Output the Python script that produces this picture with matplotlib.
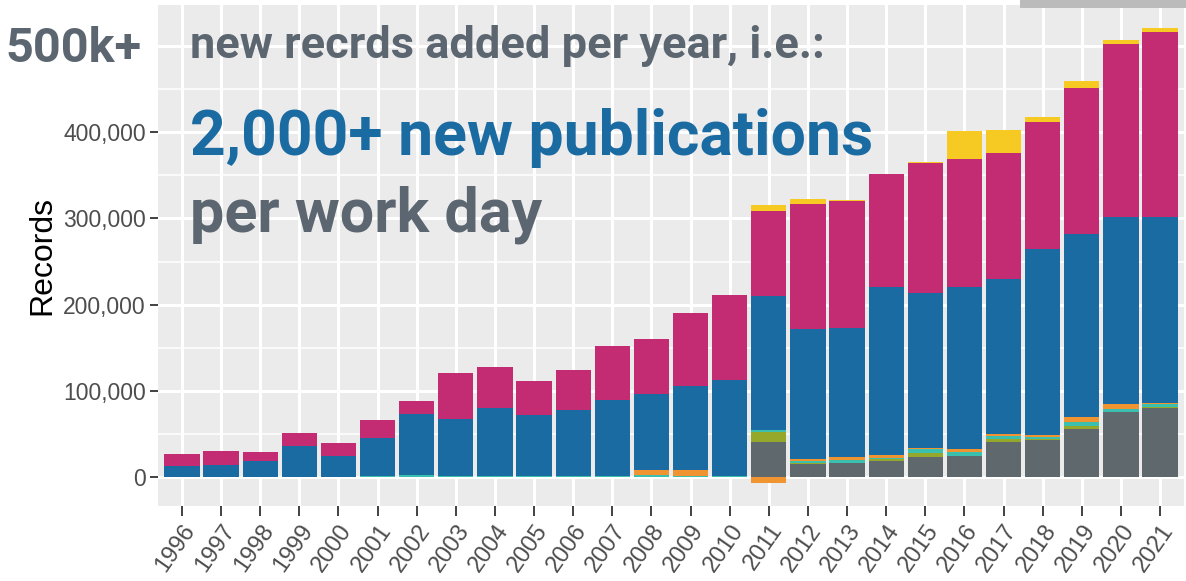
import numpy as np
import matplotlib.pyplot as plt
from matplotlib.ticker import FuncFormatter, MultipleLocator
from matplotlib.patches import Rectangle

years = [str(y) for y in range(1996, 2022)]

# record counts per year, in thousands, bottom of the stack first
gray = [0, 0, 0, 0, 0, 0, 0, 0, 0, 0, 0, 0, 0, 0, 0,
        39.8, 14.3, 15.8, 18.5, 22.4, 23.6, 40.6, 42.5, 55.3, 75.0, 80.4]
olive = [0, 0, 0, 0, 0, 0, 0, 0, 0, 0, 0, 0, 0, 0, 0,
         11.6, 1.5, 0.5, 1.6, 5.0, 0.7, 3.1, 0.8, 4.2, 0.7, 0.8]
teal = [0, 0, 0, 0, 0, 0.5, 1.5, 1.0, 1.0, 0.5, 1.0, 1.0, 1.5, 0.5, 1.0,
        3.1, 2.0, 2.6, 1.9, 4.3, 3.9, 3.1, 2.7, 4.3, 2.8, 3.0]
orange = [0, 0, 0, 0, 0, 0, 0, 0, 0, 0.5, 0, 0, 5.8, 7.5, 0,
          -7.5, 2.7, 3.5, 2.7, 1.5, 3.5, 3.4, 2.3, 5.4, 6.1, 1.3]
blue = [12.0, 13.5, 18.2, 35.9, 23.6, 44.3, 71.9, 65.9, 78.6, 70.9, 76.3, 88.7, 88.9, 97.5, 111.5,
        155.4, 150.7, 150.4, 195.2, 179.8, 188.9, 179.0, 215.7, 212.2, 217.7, 216.5]
magenta = [13.9, 15.9, 10.4, 14.7, 15.8, 20.9, 14.3, 53.3, 47.6, 39.4, 46.4, 61.8, 63.4, 84.6, 98.1,
           98.3, 145.3, 147.0, 131.4, 151.9, 148.1, 147.3, 148.0, 170.4, 200.5, 215.1]
yellow = [0, 0, 0, 0, 0, 0, 0, 0, 0, 0, 0, 0, 0, 0, 0,
          7.7, 6.6, 1.2, 0.7, 0.9, 32.8, 26.6, 6.2, 7.7, 4.7, 3.8]

series = [gray, olive, teal, orange, blue, magenta, yellow]
colors = ['#5e686d', '#95a82b', '#3bbfae', '#ef9430', '#1b6ba3', '#c32c72', '#f7c923']

fig = plt.figure(figsize=(11.86, 5.81), dpi=100)
ax = fig.add_axes([158.5 / 1186, 1 - 506 / 581, 1025 / 1186, 501 / 581])
ax.set_facecolor('#ebebeb')

x = np.arange(len(years))
pos = np.zeros(len(years))
neg = np.zeros(len(years))
for vals, c in zip(series, colors):
    v = np.array(vals) * 1000
    bottom = np.where(v >= 0, pos, neg)
    ax.bar(x, v, bottom=bottom, width=0.9, color=c, linewidth=0, zorder=3)
    pos = pos + np.where(v >= 0, v, 0)
    neg = neg + np.where(v < 0, v, 0)

ax.set_xlim(-0.6, len(years) - 0.4)
ax.set_ylim(-34000, 548000)
ax.set_xticks(x)
ax.set_xticklabels(years, rotation=55, ha='right', va='top', rotation_mode='anchor',
                   fontsize=17, color='#4d4d4d', family='Liberation Sans')
ax.set_yticks([0, 100000, 200000, 300000, 400000, 500000])
ax.yaxis.set_minor_locator(MultipleLocator(50000))
# the 500k line is covered by the "500k+" note, so no label there
ax.yaxis.set_major_formatter(FuncFormatter(lambda v, p: '' if v >= 500000 else f'{int(v):,}'))
for lab in ax.get_yticklabels():
    lab.set_family('Liberation Sans')
ax.tick_params(axis='y', labelsize=16.5, labelcolor='#4d4d4d', length=6, width=1.3, color='#333333', pad=3)
ax.yaxis.get_major_ticks()[-1].tick1line.set_visible(False)
ax.tick_params(axis='y', which='minor', length=0)
ax.tick_params(axis='x', length=7, width=1.3, color='#333333', pad=3)
ax.grid(True, which='major', color='white', linewidth=2.2, zorder=0)
ax.grid(True, which='minor', axis='y', color='white', linewidth=1.1, zorder=0)
ax.set_axisbelow(True)
for s in ax.spines.values():
    s.set_visible(False)
ax.set_ylabel('Records', fontsize=23, family='Liberation Sans', color='black', labelpad=4)

tfam = ['Roboto', 'DejaVu Sans']
fig.text(5 / 1186, 1 - 62 / 581, '500k+', fontsize=35, fontweight='bold', color='#5b6670', family=tfam)
fig.text(190 / 1186, 1 - 58 / 581, 'new recrds added per year, i.e.:', fontsize=32.5, fontweight='bold',
         color='#5b6670', family=tfam)
fig.text(190 / 1186, 1 - 155 / 581, '2,000+ new publications', fontsize=45, fontweight='bold',
         color='#1b6ba3', family=tfam)
fig.text(190 / 1186, 1 - 232 / 581, 'per work day', fontsize=44, fontweight='bold',
         color='#5b6670', family=tfam)

fig.patches.append(Rectangle((1020 / 1186, 1 - 8 / 581), 166 / 1186, 8 / 581, transform=fig.transFigure,
                             facecolor='#bbbbbb', edgecolor='none', zorder=10))

fig.savefig('out.png', dpi=100)
